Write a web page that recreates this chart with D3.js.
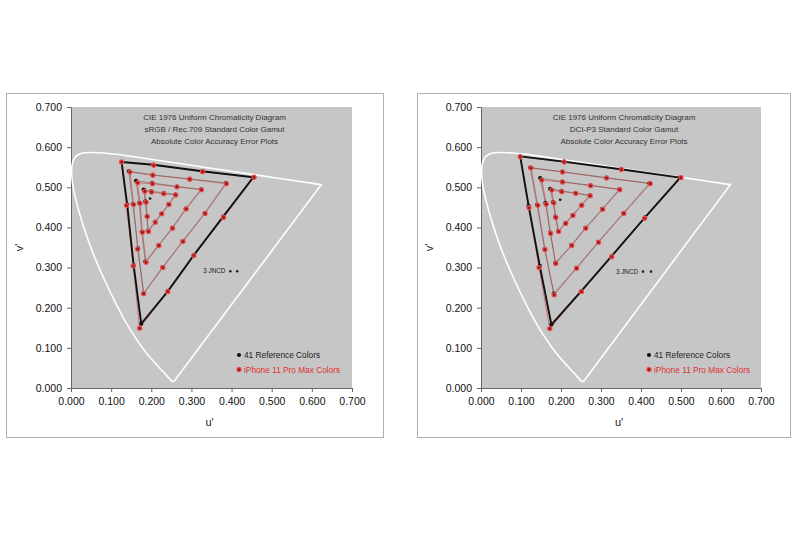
<!DOCTYPE html>
<html>
<head>
  <script src="https://d3js.org/d3.v7.min.js"></script>
</head>
<style>
body { margin: 0; background: #fff; }
text { font-family: "Liberation Sans", Arial, sans-serif; }
.tick text { font-size: 10.5px; fill: #111; }
.tick line, .domain { stroke: #666; }
</style>
<body>
  <svg id="svg_cie"></svg>
</body>
<script>
  var w = 800;
  var h = 533;

  // spectral locus, CIE 1976 u'v' (380..700 nm)
  var locusU = [0.2568, 0.2522, 0.2347, 0.2161, 0.1877, 0.1441, 0.1147, 0.0828, 0.0521, 0.0282, 0.0119, 0.0035,
                0.0014, 0.0046, 0.0123, 0.0231, 0.0360, 0.0501, 0.0792, 0.1127, 0.1531, 0.2026, 0.2623, 0.3315,
                0.4035, 0.5203, 0.5830, 0.6234];
  var locusV = [0.0166, 0.0169, 0.0350, 0.0549, 0.0871, 0.1510, 0.2044, 0.2708, 0.3427, 0.4117, 0.4698, 0.5131,
                0.5432, 0.5638, 0.5770, 0.5837, 0.5861, 0.5868, 0.5856, 0.5821, 0.5766, 0.5694, 0.5604, 0.5501,
                0.5393, 0.5219, 0.5125, 0.5065];

  // each ring: G, 2 points toward R, R, 3 points toward B, B, 2 points toward G
  var srgbRef = [
    [[0.126,0.563],[0.205,0.556],[0.327,0.540],[0.454,0.525],[0.379,0.427],[0.306,0.331],[0.242,0.242],[0.175,0.160],[0.156,0.306],[0.140,0.457]],
    [[0.144,0.540],[0.203,0.531],[0.295,0.521],[0.386,0.511],[0.333,0.436],[0.278,0.366],[0.228,0.301],[0.181,0.236],[0.167,0.348],[0.154,0.458]],
    [[0.162,0.516],[0.202,0.511],[0.264,0.502],[0.324,0.495],[0.286,0.447],[0.252,0.399],[0.218,0.356],[0.185,0.315],[0.176,0.389],[0.170,0.461]],
    [[0.181,0.494],[0.200,0.490],[0.231,0.486],[0.260,0.482],[0.243,0.458],[0.225,0.434],[0.209,0.414],[0.191,0.391],[0.189,0.428],[0.185,0.465]]
  ];
  var srgbMeas = [
    [[0.126,0.563],[0.206,0.555],[0.328,0.539],[0.456,0.525],[0.380,0.425],[0.306,0.330],[0.241,0.240],[0.171,0.149],[0.155,0.304],[0.138,0.455]],
    [[0.147,0.538],[0.204,0.530],[0.296,0.520],[0.387,0.509],[0.334,0.435],[0.279,0.365],[0.229,0.300],[0.181,0.235],[0.166,0.346],[0.156,0.457]],
    [[0.166,0.511],[0.203,0.509],[0.264,0.501],[0.325,0.494],[0.287,0.446],[0.253,0.398],[0.219,0.355],[0.187,0.313],[0.178,0.388],[0.172,0.460]],
    [[0.184,0.490],[0.201,0.488],[0.231,0.484],[0.261,0.481],[0.244,0.457],[0.226,0.434],[0.210,0.413],[0.193,0.390],[0.190,0.427],[0.187,0.463]]
  ];
  var srgbWhite = [0.197, 0.472];
  var srgbJncd = [[0.397, 0.291], [0.414, 0.291]];

  var p3Ref = [
    [[0.098,0.577],[0.207,0.564],[0.350,0.545],[0.498,0.524],[0.410,0.425],[0.326,0.328],[0.250,0.241],[0.176,0.158],[0.147,0.304],[0.119,0.454]],
    [[0.123,0.549],[0.203,0.539],[0.313,0.524],[0.421,0.510],[0.356,0.436],[0.293,0.364],[0.238,0.299],[0.182,0.235],[0.159,0.346],[0.140,0.456]],
    [[0.148,0.523],[0.203,0.514],[0.273,0.505],[0.346,0.495],[0.303,0.446],[0.261,0.399],[0.226,0.356],[0.186,0.312],[0.173,0.387],[0.161,0.461]],
    [[0.173,0.496],[0.201,0.491],[0.236,0.486],[0.272,0.480],[0.251,0.456],[0.229,0.431],[0.211,0.411],[0.193,0.391],[0.186,0.427],[0.180,0.463]]
  ];
  var p3Meas = [
    [[0.098,0.576],[0.208,0.563],[0.351,0.544],[0.500,0.524],[0.409,0.423],[0.327,0.327],[0.251,0.240],[0.172,0.148],[0.145,0.300],[0.120,0.449]],
    [[0.125,0.548],[0.204,0.538],[0.314,0.523],[0.423,0.509],[0.357,0.435],[0.294,0.363],[0.239,0.298],[0.183,0.232],[0.160,0.345],[0.142,0.455]],
    [[0.152,0.518],[0.204,0.513],[0.274,0.504],[0.347,0.494],[0.304,0.445],[0.262,0.398],[0.227,0.355],[0.187,0.310],[0.174,0.385],[0.163,0.458]],
    [[0.177,0.493],[0.202,0.489],[0.237,0.485],[0.273,0.479],[0.252,0.455],[0.230,0.430],[0.212,0.410],[0.194,0.390],[0.187,0.425],[0.182,0.461]]
  ];
  var p3White = [0.198, 0.469];
  var p3Jncd = [[0.405, 0.290], [0.425, 0.290]];

  var tickVals = [0, 0.1, 0.2, 0.3, 0.4, 0.5, 0.6, 0.7];
  var titleLines1 = ["CIE 1976 Uniform Chromaticity Diagram", "sRGB / Rec.709 Standard Color Gamut", "Absolute Color Accuracy Error Plots"];
  var titleLines2 = ["CIE 1976 Uniform Chromaticity Diagram", "DCI-P3 Standard Color Gamut", "Absolute Color Accuracy Error Plots"];
  var legendLabels = ["41 Reference Colors", "iPhone 11 Pro Max Colors"];

  var svg = d3.select("svg#svg_cie")
    .attr("width", w)
    .attr("height", h);

  svg.append("rect").attr("width", w).attr("height", h).attr("fill", "#fff");

  var charts = [
    {box: [6, 93, 377, 344], x0: 71, x1: 352, y0: 107, y1: 388, ref: srgbRef, meas: srgbMeas, white: srgbWhite, jncd: srgbJncd, title: titleLines1},
    {box: [417, 93, 373, 344], x0: 481, x1: 761, y0: 107, y1: 388, ref: p3Ref, meas: p3Meas, white: p3White, jncd: p3Jncd, title: titleLines2}
  ];

  var locus = locusU.map(function(u, i) { return [u, locusV[i]]; });

  charts.forEach(function(c) {
    var g = svg.append("g");

    g.append("rect")
      .attr("x", c.box[0] + 0.5).attr("y", c.box[1] + 0.5)
      .attr("width", c.box[2]).attr("height", c.box[3])
      .attr("fill", "#fff").attr("stroke", "#b0b0b0");

    var x = d3.scaleLinear().domain([0, 0.7]).range([c.x0, c.x1]);
    var y = d3.scaleLinear().domain([0, 0.7]).range([c.y1, c.y0]);

    g.append("rect")
      .attr("x", c.x0).attr("y", c.y0)
      .attr("width", c.x1 - c.x0).attr("height", c.y1 - c.y0)
      .attr("fill", "#c6c6c6");

    g.append("g")
      .attr("transform", "translate(0," + c.y1 + ")")
      .call(d3.axisBottom(x).tickValues(tickVals).tickFormat(d3.format(".3f")).tickSize(4).tickPadding(6));
    g.append("g")
      .attr("transform", "translate(" + c.x0 + ",0)")
      .call(d3.axisLeft(y).tickValues(tickVals).tickFormat(d3.format(".3f")).tickSize(4).tickPadding(5));

    g.append("text")
      .attr("x", (c.x0 + c.x1) / 2 - 2).attr("y", 426)
      .attr("text-anchor", "middle").attr("font-size", 11).attr("fill", "#222")
      .text("u'");
    g.append("text")
      .attr("transform", "translate(" + (c.x0 - 48) + "," + ((c.y0 + c.y1) / 2) + ") rotate(-90)")
      .attr("text-anchor", "middle").attr("font-size", 11).attr("fill", "#222")
      .text("v'");

    c.title.forEach(function(t, i) {
      g.append("text")
        .attr("x", (c.x0 + c.x1) / 2 + 3).attr("y", 120 + i * 12)
        .attr("text-anchor", "middle").attr("font-size", 8).attr("fill", "#333")
        .text(t);
    });

    var line = d3.line().x(function(d) { return x(d[0]); }).y(function(d) { return y(d[1]); });

    // spectral locus + purple line
    g.append("path")
      .attr("d", d3.line().x(function(d) { return x(d[0]); }).y(function(d) { return y(d[1]); })
        .curve(d3.curveCatmullRom)(locus) + "L" + x(locus[0][0]) + "," + y(locus[0][1]))
      .attr("fill", "none").attr("stroke", "#fff").attr("stroke-width", 1.6);

    // measured lines (red) then reference lines (black)
    c.meas.forEach(function(ring, i) {
      g.append("path")
        .attr("d", line(ring.concat([ring[0]])))
        .attr("fill", "none").attr("stroke", "#d83a3a")
        .attr("stroke-width", 0.9).attr("opacity", 0.7);
    });
    c.ref.forEach(function(ring, i) {
      g.append("path")
        .attr("d", line(ring.concat([ring[0]])))
        .attr("fill", "none").attr("stroke", i === 0 ? "#111" : "#555")
        .attr("stroke-width", i === 0 ? 1.9 : 0.8).attr("opacity", i === 0 ? 1 : 0.65);
    });

    var refPts = d3.merge(c.ref);
    var measPts = d3.merge(c.meas);

    g.selectAll("circle.ref")
      .data(refPts)
      .enter().append("circle")
      .attr("class", "ref")
      .attr("cx", function(d) { return x(d[0]); })
      .attr("cy", function(d) { return y(d[1]); })
      .attr("r", 2.1)
      .attr("fill", "#111");

    g.selectAll("circle.meas")
      .data(measPts)
      .enter().append("circle")
      .attr("class", "meas")
      .attr("cx", function(d) { return x(d[0]); })
      .attr("cy", function(d) { return y(d[1]); })
      .attr("r", 2.1)
      .attr("fill", "#9a1c1c")
      .attr("stroke", "#ee5050")
      .attr("stroke-width", 1.1);

    g.append("circle")
      .attr("cx", x(c.white[0])).attr("cy", y(c.white[1]))
      .attr("r", 1.3).attr("fill", "#111");

    // 3 JNCD marker
    g.selectAll("circle.jncd")
      .data(c.jncd)
      .enter().append("circle")
      .attr("class", "jncd")
      .attr("cx", function(d) { return x(d[0]); })
      .attr("cy", function(d) { return y(d[1]); })
      .attr("r", 1.3).attr("fill", "#222");
    g.append("text")
      .attr("x", x(c.jncd[0][0]) - 5).attr("y", y(c.jncd[0][1]) + 2.3)
      .attr("text-anchor", "end").attr("font-size", 6.3).attr("fill", "#222")
      .text("3 JNCD");

    // legend
    var lx = c.x0 + 168, ly = 355;
    legendLabels.forEach(function(t, i) {
      g.append("circle")
        .attr("cx", lx).attr("cy", ly + i * 14.5)
        .attr("r", 2.1)
        .attr("fill", i === 0 ? "#111" : "#9a1c1c")
        .attr("stroke", i === 0 ? "none" : "#ee5050")
        .attr("stroke-width", 1.1);
      g.append("text")
        .attr("x", lx + 5).attr("y", ly + i * 14.5 + 3)
        .attr("font-size", 8.3).attr("fill", i === 0 ? "#222" : "#e03030")
        .text(t);
    });
  });
</script>
</html>
